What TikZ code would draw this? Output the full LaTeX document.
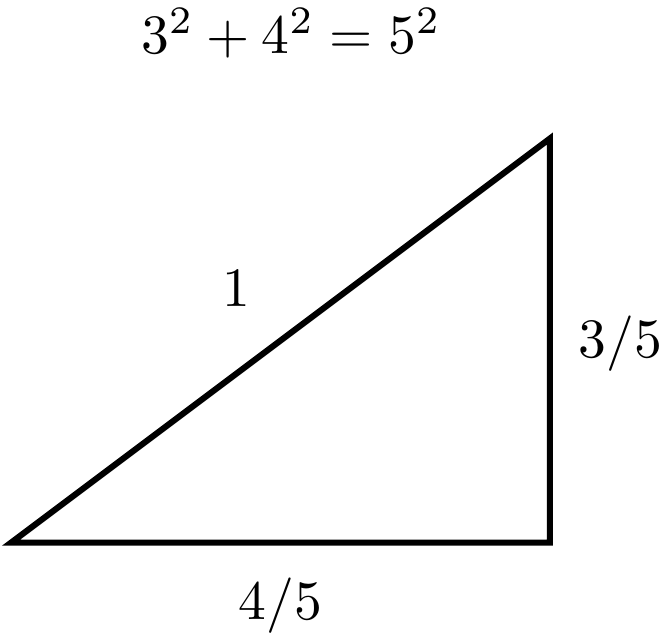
\documentclass[tikz,border=0pt]{standalone}
\usepackage{amsmath}
\usepackage{tikz}
\usetikzlibrary{positioning}
\tikzstyle{side} = [line width=1.1pt, line join=miter]
\tikzstyle{lbl} = [inner sep=3.33pt]

\begin{document}
\begin{tikzpicture}[x=0.853cm, y=0.853cm]
		
		\useasboundingbox (-0.082,-0.700) rectangle (4.855,4.029);
		
		% corners of the triangle
		\coordinate (A) at (0,0);
		\coordinate (B) at (4,0);
		\coordinate (C) at (4,3);
		
		\draw [side] (A) -- (B) -- (C) -- cycle;
		
		\node (eq) [lbl] at (2.08,3.784) {$3^2+4^2=5^2$};
		\node (hyp) [lbl] at (1.676,1.886) {$1$};
		\node (vert) [lbl] at (4.525,1.475) {$3/5$};
		\node (base) [lbl] at (2.0,-0.467) {$4/5$};
		
	\end{tikzpicture}
\end{document}
